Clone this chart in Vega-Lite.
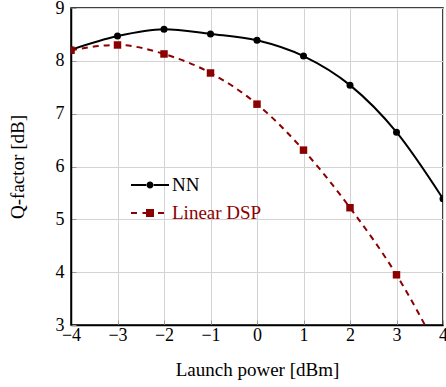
{
  "$schema": "https://vega.github.io/schema/vega-lite/v6.json",
  "width": 372,
  "height": 317,
  "autosize": "none",
  "padding": {"left": 71, "top": 8, "right": 3, "bottom": 62},
  "background": "white",
  "config": {
    "view": {"stroke": "black", "strokeWidth": 1.5},
    "font": "Liberation Serif",
    "axis": {
      "labelFont": "Liberation Serif",
      "titleFont": "Liberation Serif",
      "labelFontSize": 18,
      "titleFontSize": 19,
      "titleFontWeight": "normal",
      "labelColor": "black",
      "titleColor": "black",
      "gridColor": "#d3d3d3",
      "gridWidth": 1,
      "domainColor": "black",
      "domainWidth": 1.5,
      "tickColor": "#999999",
      "tickSize": -5,
      "labelFlush": false,
      "labelOverlap": false
    }
  },
  "data": {
    "values": [
      {"x": -4, "y": 8.21, "series": "NN"},
      {"x": -3, "y": 8.47, "series": "NN"},
      {"x": -2, "y": 8.6, "series": "NN"},
      {"x": -1, "y": 8.51, "series": "NN"},
      {"x": 0, "y": 8.39, "series": "NN"},
      {"x": 1, "y": 8.09, "series": "NN"},
      {"x": 2, "y": 7.54, "series": "NN"},
      {"x": 3, "y": 6.65, "series": "NN"},
      {"x": 4, "y": 5.39, "series": "NN"},
      {"x": -4, "y": 8.2, "series": "Linear DSP"},
      {"x": -3, "y": 8.3, "series": "Linear DSP"},
      {"x": -2, "y": 8.13, "series": "Linear DSP"},
      {"x": -1, "y": 7.77, "series": "Linear DSP"},
      {"x": 0, "y": 7.18, "series": "Linear DSP"},
      {"x": 1, "y": 6.31, "series": "Linear DSP"},
      {"x": 2, "y": 5.22, "series": "Linear DSP"},
      {"x": 3, "y": 3.95, "series": "Linear DSP"},
      {"x": 4, "y": 2.35, "series": "Linear DSP"}
    ]
  },
  "encoding": {
    "x": {
      "field": "x", "type": "quantitative",
      "scale": {"domain": [-4, 4], "nice": false},
      "axis": {"values": [-4, -3, -2, -1, 0, 1, 2, 3, 4], "title": "Launch power [dBm]", "labelPadding": 6, "titlePadding": 16}
    },
    "y": {
      "field": "y", "type": "quantitative",
      "scale": {"domain": [3, 9], "nice": false, "zero": false},
      "axis": {"values": [3, 4, 5, 6, 7, 8, 9], "title": "Q-factor [dB]", "labelPadding": 12, "titlePadding": 28}
    }
  },
  "layer": [
    {
      "transform": [{"filter": "datum.series === 'NN'"}],
      "mark": {"type": "line", "interpolate": "monotone", "strokeWidth": 2, "clip": true},
      "encoding": {
        "color": {
          "field": "series", "type": "nominal",
          "scale": {"domain": ["NN", "Linear DSP"], "range": ["black", "#8b0000"]},
          "legend": {
            "title": null,
            "orient": "none",
            "legendX": 69,
            "legendY": 167,
            "padding": 0,
            "symbolSize": 400,
            "symbolType": "M-1,-0.05H1V0.05H-1Z",
            "labelOffset": 12,
            "labelFont": "Liberation Serif",
            "labelFontSize": 19,
            "rowPadding": 8,
            "encode": {
              "symbols": {
                "update": {
                  "shape": {"signal": "datum.value === 'NN' ? 'M-1.9,-0.1H-0.3V0.1H-1.9Z M0.3,-0.1H1.9V0.1H0.3Z M-0.35,0A0.35,0.35 0 1,0 0.35,0A0.35,0.35 0 1,0 -0.35,0Z' : 'M-1.9,-0.1H-1.3V0.1H-1.9Z M-0.75,-0.1H-0.4V0.1H-0.75Z M-0.4,-0.4H0.4V0.4H-0.4Z M0.8,-0.1H1.4V0.1H0.8Z'"},
                  "fill": {"signal": "datum.value === 'NN' ? 'black' : '#8b0000'"},
                  "stroke": {"value": "transparent"},
                  "strokeWidth": {"value": 0},
                  "opacity": {"value": 1}
                }
              },
              "labels": {
                "update": {
                  "fill": {"signal": "datum.value === 'NN' ? 'black' : '#8b0000'"}
                }
              }
            }
          }
        }
      }
    },
    {
      "transform": [{"filter": "datum.series === 'Linear DSP'"}],
      "mark": {"type": "line", "interpolate": "monotone", "strokeWidth": 2, "strokeDash": [6, 5], "clip": true},
      "encoding": {
        "color": {"field": "series", "type": "nominal", "legend": null}
      }
    },
    {
      "transform": [{"filter": "datum.series === 'NN'"}],
      "mark": {"type": "point", "shape": "circle", "filled": true, "opacity": 1, "size": 49, "clip": true},
      "encoding": {
        "color": {"field": "series", "type": "nominal", "legend": null}
      }
    },
    {
      "transform": [{"filter": "datum.series === 'Linear DSP'"}],
      "mark": {"type": "point", "shape": "square", "filled": true, "opacity": 1, "size": 56, "clip": true},
      "encoding": {
        "color": {"field": "series", "type": "nominal", "legend": null}
      }
    }
  ]
}
